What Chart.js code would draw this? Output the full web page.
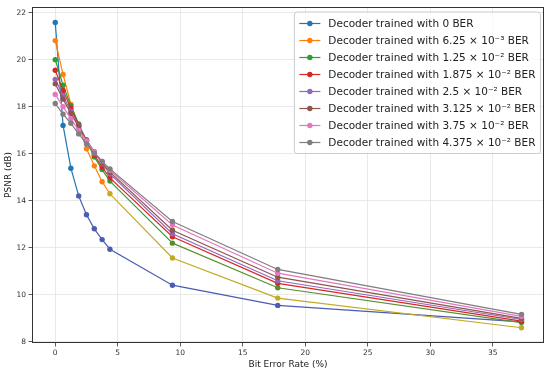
<!DOCTYPE html>
<html>
<head>
<meta charset="utf-8">
<script src="https://cdn.jsdelivr.net/npm/chart.js@4.4.1/dist/chart.umd.min.js"></script>
<style>
  html, body { margin: 0; padding: 0; background: #ffffff; }
  #wrap { width: 550px; height: 373px; }
</style>
</head>
<body>
<div id="wrap"><canvas id="c" width="550" height="373"></canvas></div>
<script>
// ---- data ----
const berPct = [0, 0.625, 1.25, 1.875, 2.5, 3.125, 3.75, 4.375, 9.375, 17.8, 37.3];

const seriesLabels = [
  "Decoder trained with 0 BER",
  "Decoder trained with 6.25 × 10⁻³ BER",
  "Decoder trained with 1.25 × 10⁻² BER",
  "Decoder trained with 1.875 × 10⁻² BER",
  "Decoder trained with 2.5 × 10⁻² BER",
  "Decoder trained with 3.125 × 10⁻² BER",
  "Decoder trained with 3.75 × 10⁻² BER",
  "Decoder trained with 4.375 × 10⁻² BER"
];

const psnr0     = [21.59, 17.21, 15.39, 14.21, 13.41, 12.81, 12.35, 11.94, 10.41, 9.55, 8.85];
const psnr6p25  = [20.82, 19.38, 18.10, 17.22, 16.22, 15.49, 14.81, 14.30, 11.57, 9.86, 8.60];
const psnr12p5  = [20.01, 18.92, 18.05, 17.27, 16.55, 15.87, 15.33, 14.84, 12.20, 10.30, 8.82];
const psnr18p75 = [19.56, 18.70, 17.94, 17.22, 16.55, 15.95, 15.44, 14.98, 12.47, 10.49, 8.88];
const psnr25    = [19.17, 18.48, 17.80, 17.18, 16.60, 16.08, 15.58, 15.15, 12.60, 10.60, 8.95];
const psnr31p25 = [18.98, 18.33, 17.72, 17.15, 16.58, 16.08, 15.62, 15.22, 12.75, 10.75, 9.00];
const psnr37p5  = [18.53, 18.01, 17.50, 17.00, 16.55, 16.08, 15.68, 15.30, 12.97, 10.92, 9.08];
const psnr43p75 = [18.14, 17.69, 17.30, 16.85, 16.42, 16.02, 15.68, 15.36, 13.12, 11.08, 9.17];

const xTickValues = [0, 5, 10, 15, 20, 25, 30, 35];
const yTickValues = [8, 10, 12, 14, 16, 18, 20, 22];

// ---- styles ----
const seriesValues = [psnr0, psnr6p25, psnr12p5, psnr18p75, psnr25, psnr31p25, psnr37p5, psnr43p75];
const seriesColors = ["#1f77b4", "#ff7f0e", "#2ca02c", "#d62728", "#9467bd", "#8c564b", "#e377c2", "#7f7f7f"];
// colour tint seen in the lower part of the reference
const lowColors    = ["#4b5cb3", "#c2aa22", "#5b8d2e", null, null, null, null, null];
const lowFrom      = [3, 7, 8, 99, 99, 99, 99, 99];

const FONT = "'DejaVu Sans', 'Liberation Sans', sans-serif";

const datasets = seriesValues.map((vals, i) => {
  const base = seriesColors[i];
  const low = lowColors[i] || base;
  const ptCols = vals.map((v, k) => (k >= lowFrom[i] ? low : base));
  return {
    label: seriesLabels[i],
    data: vals.map((v, k) => ({ x: berPct[k], y: v })),
    borderColor: base,
    backgroundColor: base,
    pointBackgroundColor: ptCols,
    pointBorderColor: ptCols,
    borderWidth: 1.2,
    pointRadius: 2.7,
    pointBorderWidth: 0,
    pointHoverRadius: 2.7,
    tension: 0,
    order: 7 - i,
    segment: {
      borderColor: ctx => (ctx.p0DataIndex >= lowFrom[i] ? low : base)
    }
  };
});

const framePlugin = {
  id: 'frame',
  afterDatasetsDraw(chart) {
    const { ctx, chartArea: a } = chart;
    ctx.save();
    ctx.strokeStyle = '#333333';
    ctx.lineWidth = 1;
    ctx.strokeRect(Math.round(a.left) + 0.5, Math.round(a.top) + 0.5,
                   Math.round(a.right - a.left) - 1, Math.round(a.bottom - a.top) - 1);
    ctx.restore();
  }
};

const legendPlugin = {
  id: 'mplLegend',
  afterDraw(chart) {
    const { ctx, chartArea: a } = chart;
    const dsets = chart.data.datasets;
    ctx.save();
    const fs = 10.5;
    ctx.font = fs + "px " + FONT;
    let maxW = 0;
    dsets.forEach(d => { maxW = Math.max(maxW, ctx.measureText(d.label).width); });
    const boxRight = a.right - 3.5;
    const boxTop = a.top + 5;
    const rowH = 17;
    const firstRow = boxTop + 11.5;
    const textX = boxRight - 5 - maxW;
    const handleR = textX - 8;
    const handleL = handleR - 21;
    const boxLeft = handleL - 5;
    const boxBottom = firstRow + rowH * (dsets.length - 1) + 11;
    // box
    const r = 3;
    ctx.beginPath();
    ctx.moveTo(boxLeft + r, boxTop);
    ctx.lineTo(boxRight - r, boxTop);
    ctx.quadraticCurveTo(boxRight, boxTop, boxRight, boxTop + r);
    ctx.lineTo(boxRight, boxBottom - r);
    ctx.quadraticCurveTo(boxRight, boxBottom, boxRight - r, boxBottom);
    ctx.lineTo(boxLeft + r, boxBottom);
    ctx.quadraticCurveTo(boxLeft, boxBottom, boxLeft, boxBottom - r);
    ctx.lineTo(boxLeft, boxTop + r);
    ctx.quadraticCurveTo(boxLeft, boxTop, boxLeft + r, boxTop);
    ctx.closePath();
    ctx.fillStyle = 'rgba(255,255,255,0.8)';
    ctx.fill();
    ctx.strokeStyle = '#cccccc';
    ctx.lineWidth = 1;
    ctx.stroke();
    // entries
    dsets.forEach((d, i) => {
      const y = firstRow + i * rowH;
      ctx.strokeStyle = d.borderColor;
      ctx.lineWidth = 1.2;
      ctx.beginPath();
      ctx.moveTo(handleL, y);
      ctx.lineTo(handleR, y);
      ctx.stroke();
      ctx.fillStyle = d.borderColor;
      ctx.beginPath();
      ctx.arc((handleL + handleR) / 2, y, 2.7, 0, Math.PI * 2);
      ctx.fill();
      ctx.fillStyle = '#222222';
      ctx.textAlign = 'left';
      ctx.textBaseline = 'middle';
      ctx.fillText(d.label, textX, y + 0.5);
    });
    ctx.restore();
  }
};

const gridColor = '#e3e3e3';

new Chart(document.getElementById('c'), {
  type: 'line',
  data: { datasets },
  plugins: [framePlugin, legendPlugin],
  options: {
    responsive: false,
    animation: false,
    devicePixelRatio: 1,
    layout: { padding: { top: 5, right: 6, left: 0, bottom: 0 } },
    plugins: {
      legend: { display: false },
      tooltip: { enabled: false }
    },
    scales: {
      x: {
        type: 'linear',
        min: -1.86,
        max: 39.1,
        afterBuildTicks: s => { s.ticks = xTickValues.map(v => ({ value: v })); },
        afterFit: s => { s.height = 30; },
        grid: { color: gridColor, lineWidth: 0.8, tickColor: '#333333', tickLength: 3.5, drawTicks: true },
        border: { display: false },
        ticks: { color: '#333333', font: { family: FONT, size: 7.5 }, padding: 2.5, maxRotation: 0, autoSkip: false },
        title: { display: true, text: 'Bit Error Rate (%)', color: '#222222',
                 font: { family: FONT, size: 9 }, padding: { top: 0, bottom: 2.5 } }
      },
      y: {
        type: 'linear',
        min: 7.95,
        max: 22.25,
        afterBuildTicks: s => { s.ticks = yTickValues.map(v => ({ value: v })); },
        afterFit: s => { s.width = 32; },
        grid: { color: gridColor, lineWidth: 0.8, tickColor: '#333333', tickLength: 3.5, drawTicks: true },
        border: { display: false },
        ticks: { color: '#333333', font: { family: FONT, size: 7.5 }, padding: 2.5, autoSkip: false },
        title: { display: true, text: 'PSNR (dB)', color: '#222222',
                 font: { family: FONT, size: 9 }, padding: { top: 3.5, bottom: 0 } }
      }
    }
  }
});
</script>
</body>
</html>
